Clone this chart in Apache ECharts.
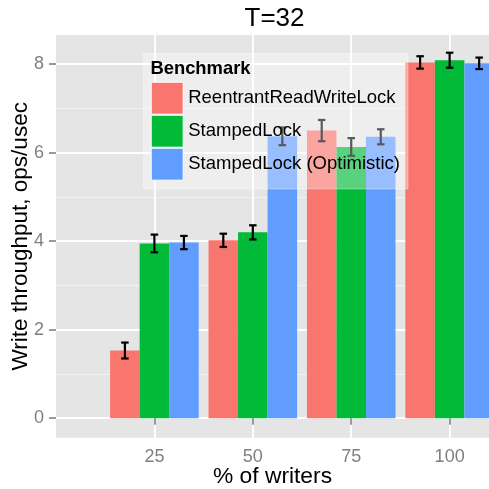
<!DOCTYPE html>
<html>
<head>
<meta charset="utf-8">
<script src="https://cdn.jsdelivr.net/npm/echarts@6/dist/echarts.min.js"></script>
<style>
html,body{margin:0;padding:0;background:#fff;}
#chart{width:489px;height:489px;}
</style>
</head>
<body>
<div id="chart"></div>
<script>
// ---- data ----
var writers = [25, 50, 75, 100];
var benchmarks = ['ReentrantReadWriteLock', 'StampedLock', 'StampedLock (Optimistic)'];
var rrwlMean = [1.53, 4.02, 6.50, 8.04];
var rrwlErr  = [0.18, 0.15, 0.24, 0.14];
var slMean   = [3.95, 4.20, 6.13, 8.09];
var slErr    = [0.20, 0.16, 0.20, 0.17];
var sloMean  = [3.97, 6.37, 6.36, 8.02];
var sloErr   = [0.15, 0.20, 0.17, 0.13];
var xTicks = [25, 50, 75, 100];
var yTicks = [0, 2, 4, 6, 8];
var yMinorTicks = [1, 3, 5, 7];

// ---- styling ----
var FONT = 'Liberation Sans, Arial, Helvetica, sans-serif';
var colors = ['#F8766D', '#00BA38', '#619CFF'];
var barFrac = 0.3;              // each bar = 30% of the x step
var step = writers[1] - writers[0];
var capPx = 7.5;

var means = [rrwlMean, slMean, sloMean];
var errs = [rrwlErr, slErr, sloErr];

var chart = echarts.init(document.getElementById('chart'), null, {renderer: 'canvas'});

var series = [];
benchmarks.forEach(function (name, i) {
  series.push({
    name: name,
    type: 'bar',
    xAxisIndex: 0, yAxisIndex: 0,
    barWidth: (barFrac * 100) + '%',
    barGap: '0%',
    itemStyle: {color: colors[i]},
    silent: true,
    z: 2,
    data: writers.map(function (w, k) { return [w, means[i][k]]; })
  });
});
benchmarks.forEach(function (name, i) {
  var off = (i - 1) * barFrac * step;
  series.push({
    name: name + ' err',
    type: 'custom',
    xAxisIndex: 0, yAxisIndex: 0,
    silent: true,
    z: 3,
    encode: {x: 0, y: [1, 2]},
    data: writers.map(function (w, k) {
      return [w, means[i][k] - errs[i][k], means[i][k] + errs[i][k]];
    }),
    renderItem: function (params, api) {
      var x = api.value(0) + off;
      var top = api.coord([x, api.value(2)]);
      var bot = api.coord([x, api.value(1)]);
      var h = capPx / 2;
      var st = {stroke: '#000', lineWidth: 2.2};
      return {type: 'group', children: [
        {type: 'line', shape: {x1: top[0], y1: top[1], x2: bot[0], y2: bot[1]}, style: st},
        {type: 'line', shape: {x1: top[0] - h, y1: top[1], x2: top[0] + h, y2: top[1]}, style: st},
        {type: 'line', shape: {x1: bot[0] - h, y1: bot[1], x2: bot[0] + h, y2: bot[1]}, style: st}
      ]};
    }
  });
});

var option = {
  animation: false,
  backgroundColor: '#fff',
  textStyle: {fontFamily: FONT},
  grid: {
    left: 56, right: 0, top: 35, bottom: 51.3,
    show: true, backgroundColor: '#E5E5E5', borderWidth: 0,
    containLabel: false,
    outerBoundsMode: 'none'
  },
  xAxis: [{
    type: 'value', min: 0, max: 110,
    axisLine: {show: false},
    axisTick: {show: true, customValues: xTicks, length: 6.6, lineStyle: {color: '#808080', width: 1.6}},
    axisLabel: {customValues: xTicks, margin: 10, fontSize: 18, color: '#7F7F7F', fontFamily: FONT},
    splitLine: {show: true, lineStyle: {color: '#FFFFFF', width: 1.8}},
    name: '% of writers', nameLocation: 'middle', nameGap: 27.7,
    nameMoveOverlap: false,
    nameTextStyle: {fontSize: 22.8, color: '#000', fontFamily: FONT}
  }],
  yAxis: [{
    type: 'value', min: -0.44, max: 8.66,
    axisLine: {show: false},
    axisTick: {show: true, customValues: yTicks, length: 7, lineStyle: {color: '#808080', width: 1.6}},
    axisLabel: {customValues: yTicks, margin: 12, fontSize: 18, color: '#7F7F7F', fontFamily: FONT},
    splitLine: {show: true, lineStyle: {color: '#FFFFFF', width: 1.8}},
    name: 'Write throughput, ops/usec', nameLocation: 'middle', nameGap: 24,
    nameMoveOverlap: false,
    nameTextStyle: {fontSize: 22.5, color: '#000', fontFamily: FONT}
  }, {
    type: 'value', min: -0.44, max: 8.66,
    axisLine: {show: false},
    axisTick: {show: false, customValues: yMinorTicks},
    axisLabel: {show: false, customValues: yMinorTicks},
    splitLine: {show: true, lineStyle: {color: '#F2F2F2', width: 1}}
  }],
  legend: {
    orient: 'vertical',
    left: 143.3, top: 53.3,
    padding: [28.4, 8, 8.3, 7.4],
    itemWidth: 32, itemHeight: 32, itemGap: 0,
    icon: 'rect',
    backgroundColor: 'rgba(255,255,255,0.35)',
    borderColor: 'rgba(255,255,255,0.35)', borderWidth: 1,
    borderRadius: 0,
    selectedMode: false,
    itemStyle: {borderColor: '#FFFFFF', borderWidth: 1},
    textStyle: {fontSize: 18.5, color: '#000', fontFamily: FONT},
    data: benchmarks
  },
  graphic: [
    {type: 'text', x: 274.5, y: 19.2, z: 10,
     style: {text: 'T=32', fontSize: 26, fontFamily: FONT, fill: '#000', textAlign: 'center', textVerticalAlign: 'middle'}},
    {type: 'text', x: 150.4, y: 69, z: 10,
     style: {text: 'Benchmark', fontSize: 18.4, fontWeight: 'bold', fontFamily: FONT, fill: '#000', textAlign: 'left', textVerticalAlign: 'middle'}}
  ],
  series: series
};
chart.setOption(option);
</script>
</body>
</html>
